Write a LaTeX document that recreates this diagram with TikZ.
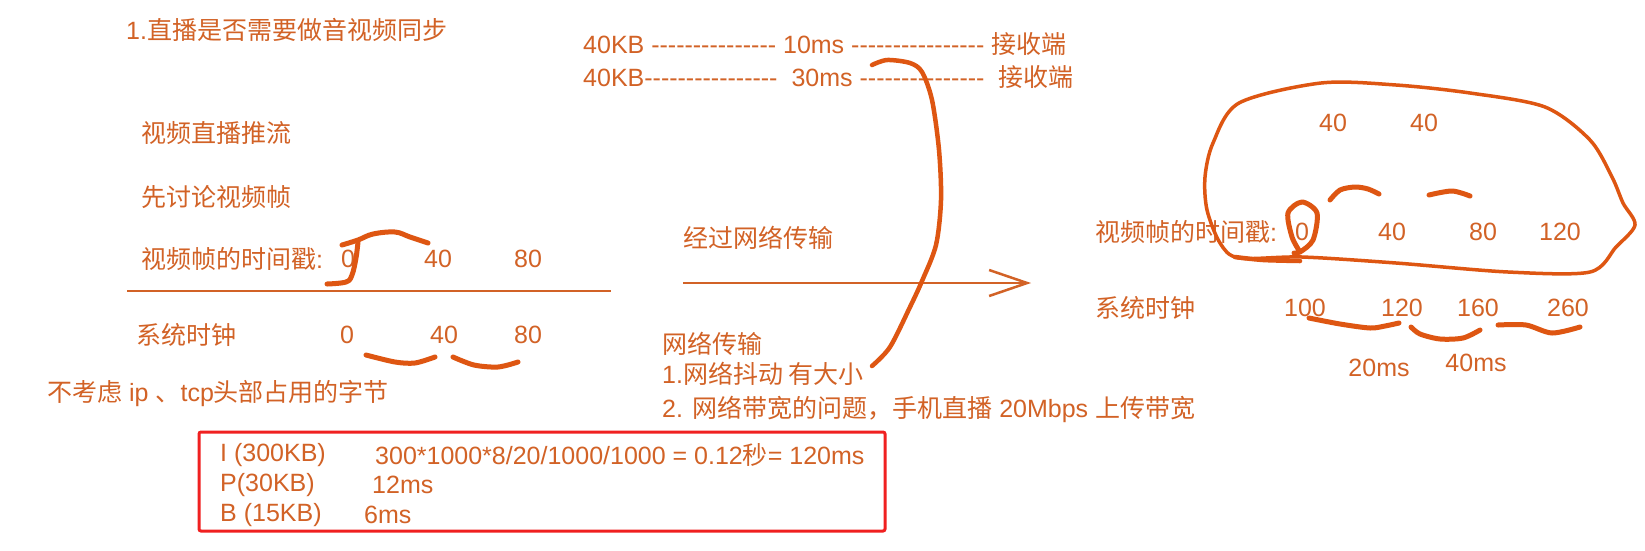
\documentclass[tikz,border=0pt]{standalone}
\usepackage{fontspec}
\setmainfont{Liberation Sans}[Ligatures=TeXOff]
\newfontfamily\cjk{Noto Sans CJK SC}
\usetikzlibrary{arrows.meta}
\definecolor{txt}{RGB}{210,98,38}
\definecolor{ink}{RGB}{222,86,18}
\definecolor{boxred}{RGB}{240,32,32}
\begin{document}
\begin{tikzpicture}[x=1pt,y=-1pt,
  lbl/.style={text=txt,font=\fontsize{25}{29}\selectfont,inner sep=0pt,anchor=west},
  num/.style={text=txt,font=\fontsize{25}{29}\selectfont,inner sep=0pt,anchor=center},
  stroke/.style={draw=ink,line width=5pt,line cap=round,line join=round},
  thin/.style={draw=txt,line width=2.5pt}]
\useasboundingbox[fill=white] (0,0) rectangle (1645,550);
% left column
\node[lbl] (title) at (126,30) {1.{\cjk 直播是否需要做音视频同步}};
\node[lbl] (vlive) at (141,133) {\cjk 视频直播推流};
\node[lbl] (disc) at (141,197) {\cjk 先讨论视频帧};
\node[lbl] (ts) at (141,259) {{\cjk 视频帧的时间戳}:};
\node[num] (ts0) at (348,259) {0};
\node[num] (ts40) at (438,259) {40};
\node[num] (ts80) at (528,259) {80};
\coordinate (la) at (127,291);
\coordinate (lb) at (611,291);
\draw[thin] (la) -- (lb);
\node[lbl] (clk) at (136,335) {\cjk 系统时钟};
\node[num] (c0) at (347,335) {0};
\node[num] (c40) at (444,335) {40};
\node[num] (c80) at (528,335) {80};
\node[lbl] (noip) at (47,393) {{\cjk 不考虑} ip {\cjk 、}tcp{\cjk 头部占用的字节}};
% top middle
\node[lbl] (r1) at (583,44) {40KB --------------- 10ms ---------------- {\cjk 接收端}};
\node[lbl] (r2) at (583,77) {40KB----------------\hspace{14pt}30ms ---------------\hspace{14pt}{\cjk 接收端}};
% network
\node[lbl] (net) at (683,238) {\cjk 经过网络传输};
\coordinate (aa) at (683,283);
\coordinate (ab) at (1031,283);
\draw[thin,-{Straight Barb[length=38pt,width=26pt,line width=2.5pt]}] (aa) -- (ab);
\node[lbl] (nt) at (662,344) {\cjk 网络传输};
\node[lbl] (j1) at (662,374) {1.{\cjk 网络抖动 有大小}};
\node[lbl] (j2) at (662,409) {2. {\cjk 网络带宽的问题，手机直播} 20Mbps {\cjk 上传带宽}};
% red box
\node[draw=boxred,line width=3pt,rounded corners=2pt,minimum width=686pt,minimum height=99pt,inner sep=0pt] (box) at (542,481.5) {};
\node[lbl] (bi) at (220,455) {I (300KB)};
\node[lbl] (bic) at (375,455) {300*1000*8/20/1000/1000 = 0.12{\cjk 秒}= 120ms};
\node[lbl] (bp) at (220,485) {P(30KB)};
\node[lbl] (bpc) at (372,485) {12ms};
\node[lbl] (bb) at (220,515) {B (15KB)};
\node[lbl] (bbc) at (364,515) {6ms};
% right
\node[num] (t40a) at (1333,123) {40};
\node[num] (t40b) at (1424,123) {40};
\node[lbl] (rts) at (1095,232) {{\cjk 视频帧的时间戳}:};
\node[num] (r0) at (1302,232) {0};
\node[num] (r40) at (1392,232) {40};
\node[num] (r80) at (1483,232) {80};
\node[num] (r120) at (1560,232) {120};
\node[lbl] (rclk) at (1095,308) {\cjk 系统时钟};
\node[num] (r100) at (1305,308) {100};
\node[num] (r120b) at (1402,308) {120};
\node[num] (r160) at (1478,308) {160};
\node[num] (r260) at (1568,308) {260};
\node[num] (m20) at (1379,368) {20ms};
\node[num] (m40) at (1476,363) {40ms};
% hand strokes
\draw[stroke] plot[smooth,tension=0.6] coordinates {(342,245) (358,240) (373,234) (395,232) (410,237) (428,243)};
\draw[stroke] plot[smooth,tension=0.6] coordinates {(358,242) (356,258) (352,275) (346,282) (327,284)};
\draw[stroke] plot[smooth] coordinates {(366,355) (395,362) (415,363) (435,357)};
\draw[stroke] plot[smooth] coordinates {(453,357) (474,365) (498,367) (518,362)};
\draw[stroke,line width=4.5pt] plot[smooth] coordinates {(872,65) (887,60) (910,63) (922,72) (932,100) (939,150) (941,200) (936,245) (922,281) (910,307) (890,347) (872,366)};
\draw[stroke,line width=3.5pt] plot[smooth cycle] coordinates {(1239,103) (1321,83) (1396,85) (1470,93) (1545,107) (1590,140) (1612,177) (1623,203) (1635,225) (1616,247) (1590,272) (1508,272) (1396,263) (1302,257) (1239,258) (1220,243) (1207,210) (1205,177) (1213,143)};
\draw[stroke,line width=4.5pt] plot[smooth] coordinates {(1235,257) (1263,260) (1300,261)};
\draw[stroke] plot[smooth] coordinates {(1294,253) (1300,252) (1313,240) (1317,213) (1302,202) (1288,213) (1292,237) (1300,252)};
\draw[stroke] plot[smooth] coordinates {(1330,200) (1340,190) (1355,187) (1368,189) (1379,194)};
\draw[stroke] plot[smooth] coordinates {(1429,195) (1452,191) (1470,196)};
\draw[stroke] plot[smooth] coordinates {(1309,318) (1340,324) (1370,328) (1385,326) (1399,323)};
\draw[stroke] plot[smooth] coordinates {(1411,327) (1420,334) (1440,339) (1463,338) (1480,330)};
\draw[stroke] plot[smooth] coordinates {(1498,325) (1526,325) (1552,333) (1580,327)};
\end{tikzpicture}
\end{document}
